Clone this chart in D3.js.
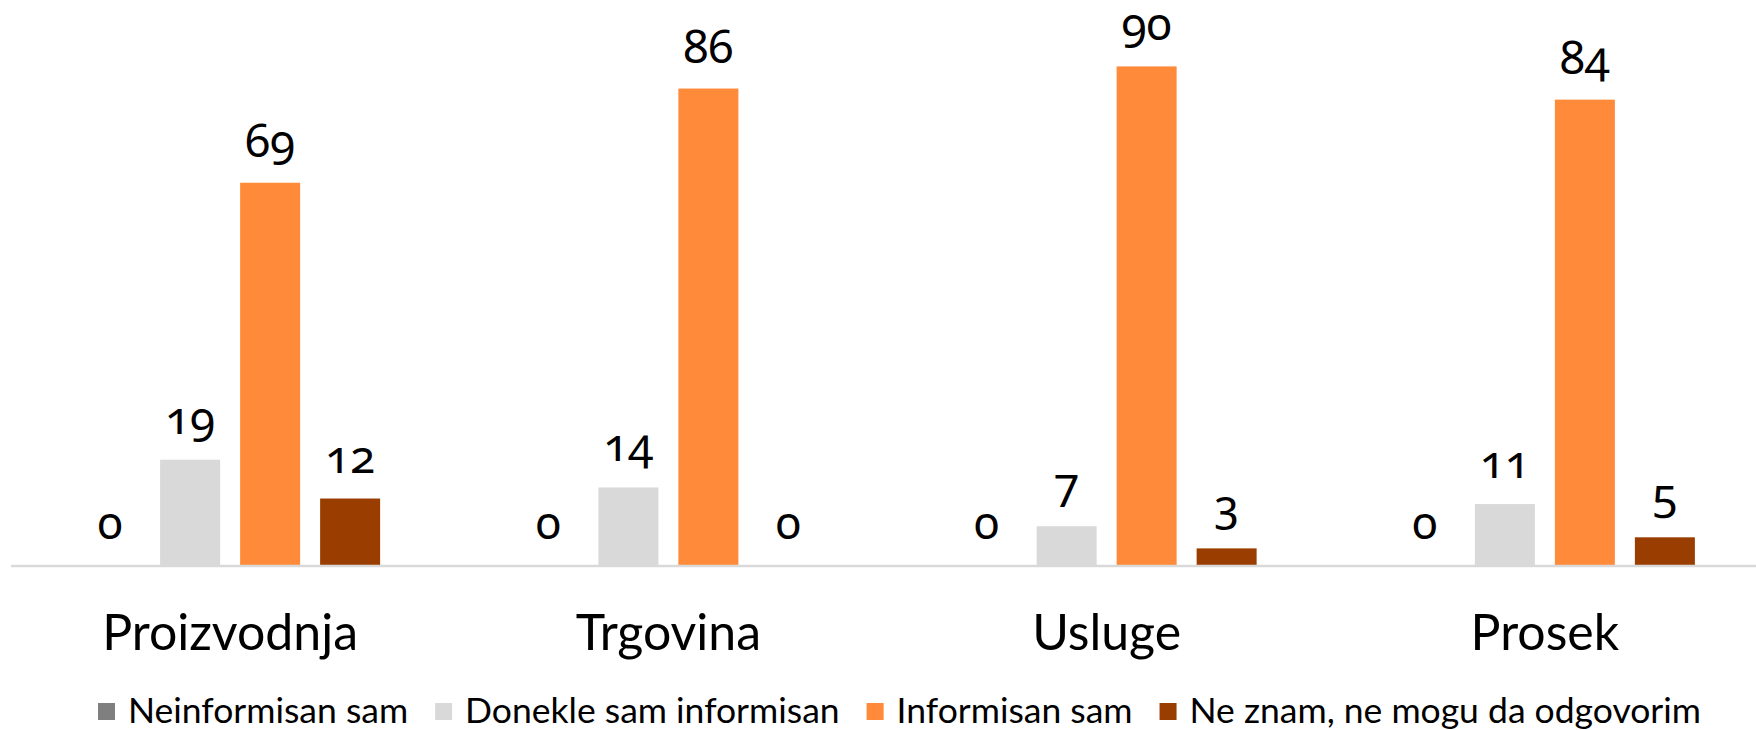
<!DOCTYPE html>
<html>
<head>
<meta charset="utf-8">
<script src="https://cdn.jsdelivr.net/npm/d3@7/dist/d3.min.js"></script>
<style>
  body { margin: 0; background: #fff; }
  .value { font-family: "Noto Sans", sans-serif; font-feature-settings: "onum"; font-variant-numeric: oldstyle-nums; }
  .cat, .legend text { font-family: Lato, "Open Sans", sans-serif; }
</style>
</head>
<body>
<div id="content"></div>
<script>
var width = 1756;
var height = 730;

var categories = ["Proizvodnja", "Trgovina", "Usluge", "Prosek"];
var series = ["Neinformisan sam", "Donekle sam informisan", "Informisan sam", "Ne znam, ne mogu da odgovorim"];
var colors = ["#7f7f7f", "#d9d9d9", "#ff8a3a", "#993d00"];

var neinformisan = [0, 0, 0, 0];
var donekle = [19, 14, 7, 11];
var informisan = [69, 86, 90, 84];
var neZnam = [12, 0, 3, 5];

var values = [neinformisan, donekle, informisan, neZnam];

var rows = [];
categories.forEach(function (c, ci) {
    series.forEach(function (s, si) {
        rows.push({ cat: c, series: s, idx: si, value: values[si][ci] });
    });
});

var svg = d3.select("#content").append("svg")
    .attr("width", width)
    .attr("height", height);

var x0 = d3.scaleBand()
    .domain(categories)
    .range([11, 1764]);

var groupWidth = 300;

var x1 = d3.scaleBand()
    .domain(series)
    .range([0, groupWidth])
    .paddingInner(0.25);

var y = d3.scaleLinear()
    .domain([0, 100])
    .range([565, 11]);

var groups = svg.selectAll(".group")
    .data(categories)
    .enter()
    .append("g")
    .attr("class", "group")
    .attr("transform", function (d) {
        return `translate(${x0(d) + (x0.bandwidth() - groupWidth) / 2}, 0)`;
    });

groups.selectAll("rect")
    .data(function (c) { return rows.filter(r => r.cat === c); })
    .enter()
    .append("rect")
    .attr("x", d => x1(d.series))
    .attr("y", d => y(d.value))
    .attr("width", x1.bandwidth())
    .attr("height", d => y(0) - y(d.value))
    .style("fill", d => colors[d.idx]);

groups.selectAll(".value")
    .data(function (c) { return rows.filter(r => r.cat === c); })
    .enter()
    .append("text")
    .attr("class", "value")
    .attr("x", d => x1(d.series) + x1.bandwidth() / 2)
    .attr("y", d => y(d.value) - 26)
    .attr("text-anchor", "middle")
    .style("font-size", "46px")
    .style("fill", "#000")
    .text(d => d.value);

// baseline
svg.append("line")
    .attr("x1", 11)
    .attr("x2", width)
    .attr("y1", y(0) + 1)
    .attr("y2", y(0) + 1)
    .style("stroke", "#d9d9d9")
    .style("stroke-width", 2.5);

// category labels
svg.selectAll(".cat")
    .data(categories)
    .enter()
    .append("text")
    .attr("class", "cat")
    .attr("x", d => x0(d) + x0.bandwidth() / 2)
    .attr("y", 650)
    .attr("text-anchor", "middle")
    .style("font-size", "50px")
    .style("fill", "#000")
    .text(d => d);

// legend
var legend = svg.append("g").attr("class", "legend");

var items = legend.selectAll("g")
    .data(series)
    .enter()
    .append("g");

items.append("rect")
    .attr("y", 703)
    .attr("width", 17)
    .attr("height", 17)
    .style("fill", (d, i) => colors[i]);

items.append("text")
    .attr("x", 30)
    .attr("y", 723)
    .style("font-size", "35.5px")
    .style("fill", "#000")
    .text(d => d);

function placeLegend() {
    var cursor = 98;
    items.each(function () {
        var w = d3.select(this).select("text").node().getComputedTextLength();
        d3.select(this).attr("transform", `translate(${cursor}, 0)`);
        cursor += 30 + w + 27;
    });
}

placeLegend();
if (document.fonts && document.fonts.ready) {
    document.fonts.ready.then(placeLegend);
}
</script>
</body>
</html>
